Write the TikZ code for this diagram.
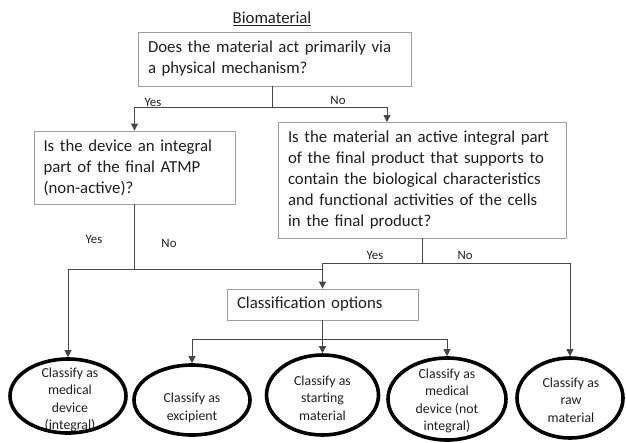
\documentclass[tikz,border=0pt]{standalone}
\usepackage{fontspec}
\setmainfont{Carlito}
\usetikzlibrary{shapes.geometric,arrows.meta}
\begin{document}
\begin{tikzpicture}[x=1pt,y=-1pt,
  qbox/.style={draw=black!38,line width=0.8pt,rectangle,inner ysep=0pt,inner xsep=10pt,
    align=left,font=\fontsize{16.8}{21}\selectfont,text=black!88},
  ell/.style={draw=black,line width=3.6pt,ellipse,inner sep=0pt},
  elltext/.style={align=center,font=\fontsize{13.8}{17.5}\selectfont,text=black!88,inner sep=0pt},
  lab/.style={font=\fontsize{12.8}{15}\selectfont,text=black!88,inner sep=0pt},
  conn/.style={draw=black!72,line width=0.8pt},
  arr/.style={conn,-{Triangle[width=7pt,length=7pt]}}]
\useasboundingbox[fill=white] (0,0) rectangle (626,442);

\node[font=\fontsize{16.8}{21}\selectfont,text=black!88,inner sep=0pt] (title) at (272,19) {\underline{Biomaterial}};

\node[qbox,minimum width=273pt,minimum height=54pt,text width=253pt] (box1) at (274.5,59)
  {\mbox{Does the material act primarily via}\\\mbox{a physical mechanism?}};
\node[qbox,minimum width=201pt,minimum height=73pt,text width=182pt,inner xsep=9.5pt] (box2) at (134.5,167.5)
  {\mbox{Is the device an integral}\\\mbox{part of the final ATMP}\\\mbox{(non-active)?}};
\node[qbox,minimum width=288pt,minimum height=116pt,text width=268pt] (box3) at (422,180)
  {\mbox{Is the material an active integral part}\\\mbox{of the final product that supports to}\\\mbox{contain the biological characteristics}\\\mbox{and functional activities of the cells}\\\mbox{in the final product?}};
\node[qbox,minimum width=191pt,minimum height=31pt,text width=171pt] (cls) at (322.5,304.5)
  {\mbox{Classification options}};

\node[ell,minimum width=116pt,minimum height=74pt] (e1) at (68,396) {};
\node[ell,minimum width=116pt,minimum height=70pt] (e2) at (192,400) {};
\node[ell,minimum width=112pt,minimum height=80pt] (e3) at (322.5,395) {};
\node[ell,minimum width=118pt,minimum height=82pt] (e4) at (447,399) {};
\node[ell,minimum width=106pt,minimum height=80pt] (e5) at (570,398) {};

\node[elltext] (t1) at (70,400) {Classify as\\medical\\device\\(integral)};
\node[elltext] (t2) at (192,408) {Classify as\\excipient};
\node[elltext] (t3) at (322.5,398) {Classify as\\starting\\material};
\node[elltext] (t4) at (447,401) {Classify as\\medical\\device (not\\integral)};
\node[elltext] (t5) at (571,400) {Classify as\\raw\\material};

\coordinate (j1) at (272,107);
\coordinate (in3) at (387,122);
\coordinate (j2) at (134.5,269);
\coordinate (j2r) at (322.5,269);
\coordinate (j3) at (422,263);
\coordinate (j4) at (322.5,339);

\draw[conn] (j1 |- box1.south) -- (j1);
\draw[arr] (j1) -| (box2.north);
\draw[arr] (j1) -| (in3);

\draw[conn] (box2.south) -- (j2);
\draw[arr] (j2r) -| (e1.north);

\draw[conn] (box3.south) -- (j3);
\draw[arr] (j3) -| (cls.north);
\draw[arr] (j3) -| (e5.north);

\draw[conn] (cls.south) -- (j4);
\draw[arr] (j4) -| (e2.north);
\draw[arr] (j4) -- (e3.north);
\draw[arr] (j4) -| (e4.north);

\node[lab] (y1) at (153,102) {Yes};
\node[lab] (n1) at (338,100) {No};
\node[lab] (y2) at (94,239) {Yes};
\node[lab] (n2) at (169,243) {No};
\node[lab] (y3) at (375,255) {Yes};
\node[lab] (n3) at (465,255) {No};
\end{tikzpicture}
\end{document}
